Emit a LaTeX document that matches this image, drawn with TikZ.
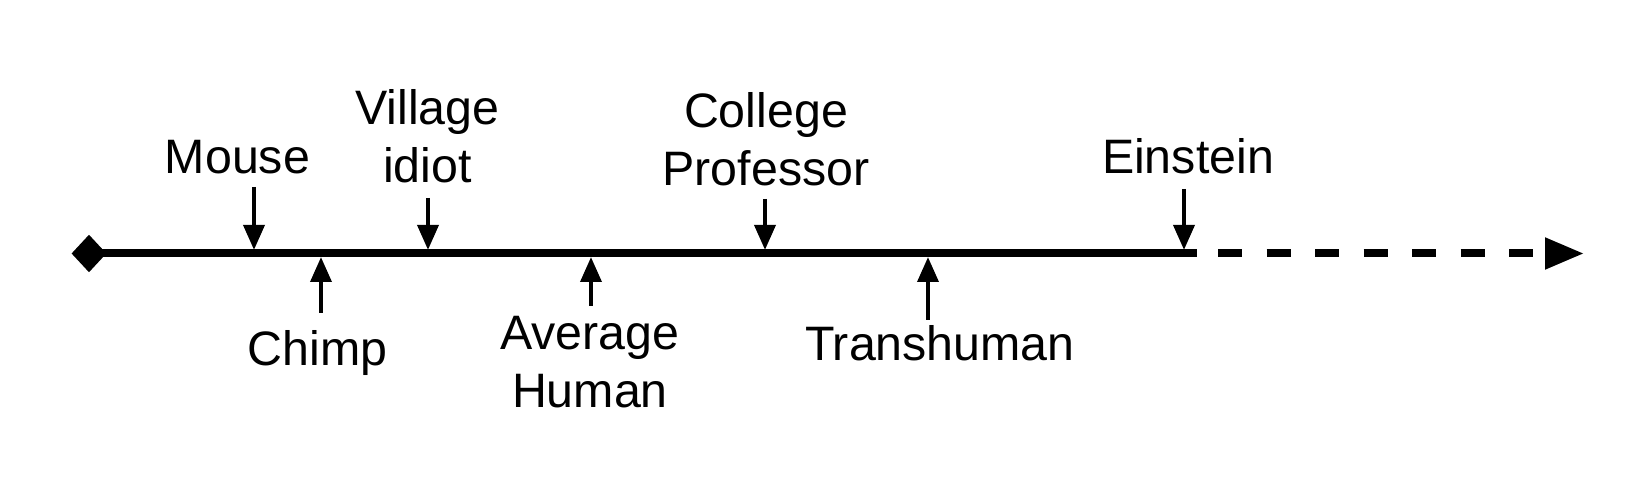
\documentclass[tikz,border=0pt]{standalone}
\usepackage{fontspec}
\setmainfont{Liberation Sans}
\usetikzlibrary{arrows.meta,shapes.geometric}

\begin{document}
\begin{tikzpicture}[
  x=0.3pt, y=-0.3pt,
  >={Triangle[length=7.5pt,width=6.2pt]},
  axis/.style={line width=2.4pt},
  pointer/.style={->, line width=1.35pt},
  lbl/.style={anchor=base, align=center, inner sep=0pt, font=\fontsize{14.5}{17.6}\selectfont},
]
\useasboundingbox (0,0) rectangle (1650,498);
% the scale itself
\node[diamond, fill, inner sep=0pt, minimum width=10.6pt, minimum height=11.4pt] (start) at (89,253.5) {};
\coordinate (solidend) at (1197,253.5);
\coordinate (dashstart) at (1218,253.5);
\coordinate (beyond) at (1584,253.5);
\draw[axis] (start.center) -- (solidend);
\draw[axis, dash pattern=on 7.2pt off 7.35pt, -{Triangle[length=11.7pt,width=9pt]}] (dashstart) -- (beyond);
% markers: above the line point down, below the line point up
\foreach \n/\x/\t/\h in {mouse/254/187/250, village/428/198/250, professor/765/199/250, einstein/1184/189/250,
                         chimp/321/313/257, average/591/306/257, transhuman/928/320/257} {
  \coordinate (\n-tail) at (\x,\t);
  \coordinate (\n-head) at (\x,\h);
  \draw[pointer] (\n-tail) -- (\n-head);
}
\node[lbl] (mouse)      at (237.5,174) {Mouse};
\node[lbl] (village)    at (427.5,183) {Village\\idiot};
\node[lbl] (professor)  at (766,186)   {College\\Professor};
\node[lbl] (einstein)   at (1188,174)  {Einstein};
\node[lbl] (chimp)      at (317.5,366) {Chimp};
\node[lbl] (average)    at (590,408)   {Average\\Human};
\node[lbl] (transhuman) at (940,361)   {Transhuman};
\end{tikzpicture}
\end{document}
